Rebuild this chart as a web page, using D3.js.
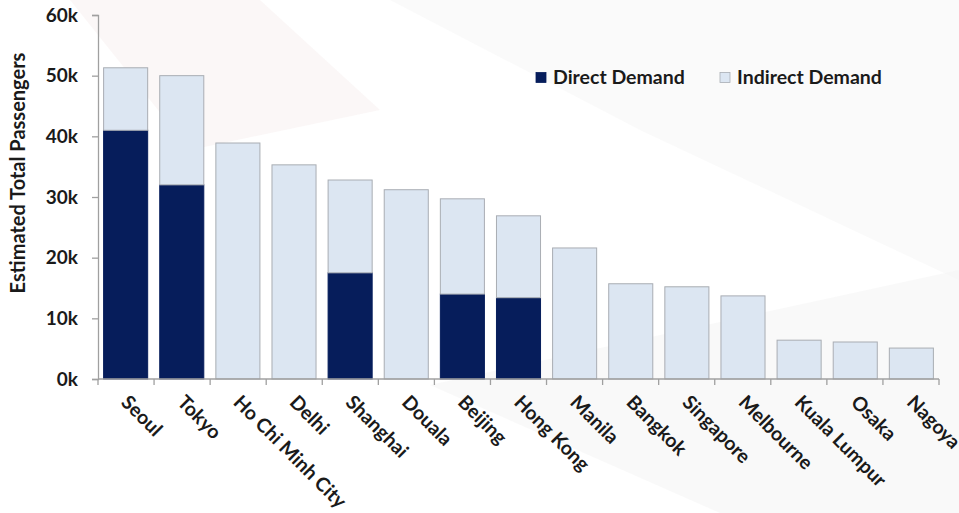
<!DOCTYPE html>
<html>
<head>
<meta charset="utf-8">
<script src="https://cdn.jsdelivr.net/npm/d3@7"></script>
<style>
  html, body { margin: 0; padding: 0; background: #fff; }
  svg { display: block; }
  text { font-family: Lato, "Open Sans", sans-serif; font-weight: 700; fill: #1a1a1a; }
</style>
</head>
<body>
<svg id="chart" width="959" height="513"></svg>
<script>
// Airport destinations and estimated passenger demand
const cities = ["Seoul", "Tokyo", "Ho Chi Minh City", "Delhi", "Shanghai", "Douala",
  "Beijing", "Hong Kong", "Manila", "Bangkok", "Singapore", "Melbourne",
  "Kuala Lumpur", "Osaka", "Nagoya"];
const directDemand = [41000, 32000, 0, 0, 17500, 0, 14000, 13400, 0, 0, 0, 0, 0, 0, 0];
const indirectDemand = [10300, 18000, 38900, 35300, 15300, 31200, 15700, 13500, 21600, 15700, 15200, 13700, 6400, 6100, 5100];
const yTicks = [0, 10000, 20000, 30000, 40000, 50000, 60000];
const seriesNames = ["Direct Demand", "Indirect Demand"];

const svg = d3.select("#chart");
const margin = { left: 98, top: 15 };
const plotRight = 939;
const plotBottom = 379;

// faint backdrop shapes
const bg = svg.append("g");
bg.append("path")
  .attr("d", "M70,0 L260,0 L380,110 L190,150 Z")
  .attr("fill", "#f9f1f1").attr("opacity", 0.6);
bg.append("path")
  .attr("d", "M390,0 L959,0 L959,280 L640,130 Z")
  .attr("fill", "#f6f6f7").attr("opacity", 0.6);
bg.append("path")
  .attr("d", "M430,385 L959,270 L959,513 L720,513 Z")
  .attr("fill", "#f5f5f5").attr("opacity", 0.6);

const x = d3.scaleBand().domain(cities).range([margin.left, plotRight]).paddingInner(0.215).paddingOuter(0.1);
const y = d3.scaleLinear().domain([0, 60000]).range([plotBottom, margin.top]);

const rows = cities.map((c, i) => ({ city: c, direct: directDemand[i], indirect: indirectDemand[i] }));
const stack = d3.stack().keys(["direct", "indirect"])(rows);
const fills = { direct: "#061d5b", indirect: "#dce6f2" };

stack.forEach(layer => {
  svg.append("g").selectAll("rect")
    .data(layer.filter(d => d[1] - d[0] > 0))
    .join("rect")
    .attr("x", d => x(d.data.city))
    .attr("width", x.bandwidth())
    .attr("y", d => y(d[1]))
    .attr("height", d => y(d[0]) - y(d[1]))
    .attr("fill", fills[layer.key])
    .attr("stroke", layer.key === "indirect" ? "#a9adb3" : fills.direct)
    .attr("stroke-width", 1);
});

// y axis
const yAxis = svg.append("g").attr("transform", `translate(${margin.left},0)`)
  .call(d3.axisLeft(y).tickValues(yTicks).tickFormat(d => (d / 1000) + "k").tickSize(6).tickPadding(14));
yAxis.select(".domain").attr("stroke", "#a0a0a0").attr("stroke-width", 1.3);
yAxis.selectAll(".tick line").attr("stroke", "#a0a0a0").attr("stroke-width", 1.3);
yAxis.selectAll(".tick text").style("font-size", "19px").attr("fill", "#1a1a1a");

// x axis: tick marks on band boundaries
const xAxisG = svg.append("g");
xAxisG.append("line").attr("x1", margin.left).attr("x2", plotRight)
  .attr("y1", plotBottom).attr("y2", plotBottom).attr("stroke", "#a0a0a0").attr("stroke-width", 1.3);
const boundaries = d3.range(cities.length + 1).map(i => margin.left + (plotRight - margin.left) * i / cities.length);
xAxisG.selectAll("line.tk").data(boundaries).join("line").attr("class", "tk")
  .attr("x1", d => d).attr("x2", d => d).attr("y1", plotBottom).attr("y2", plotBottom + 6)
  .attr("stroke", "#a0a0a0").attr("stroke-width", 1.3);

svg.append("g").selectAll("text")
  .data(cities).join("text")
  .attr("transform", d => `translate(${x(d) + x.bandwidth() / 2 - 2},${plotBottom + 21}) rotate(45)`)
  .attr("text-anchor", "start")
  .attr("dominant-baseline", "middle")
  .style("font-size", "19.5px")
  .text(d => d);

// y axis title
svg.append("text")
  .attr("transform", `translate(25,173) rotate(-90)`)
  .attr("text-anchor", "middle")
  .style("font-size", "20px")
  .text("Estimated Total Passengers");

// legend
const legend = svg.append("g");
const legendItems = [
  { name: seriesNames[0], fill: fills.direct, stroke: fills.direct, x: 536 },
  { name: seriesNames[1], fill: fills.indirect, stroke: "#a9adb3", x: 720 }
];
legendItems.forEach(it => {
  legend.append("rect").attr("x", it.x).attr("y", 72.5).attr("width", 10).attr("height", 10)
    .attr("fill", it.fill).attr("stroke", it.stroke).attr("stroke-width", 0.8);
  legend.append("text").attr("x", it.x + 17).attr("y", 84)
    .style("font-size", "19.5px").text(it.name);
});
</script>
</body>
</html>
